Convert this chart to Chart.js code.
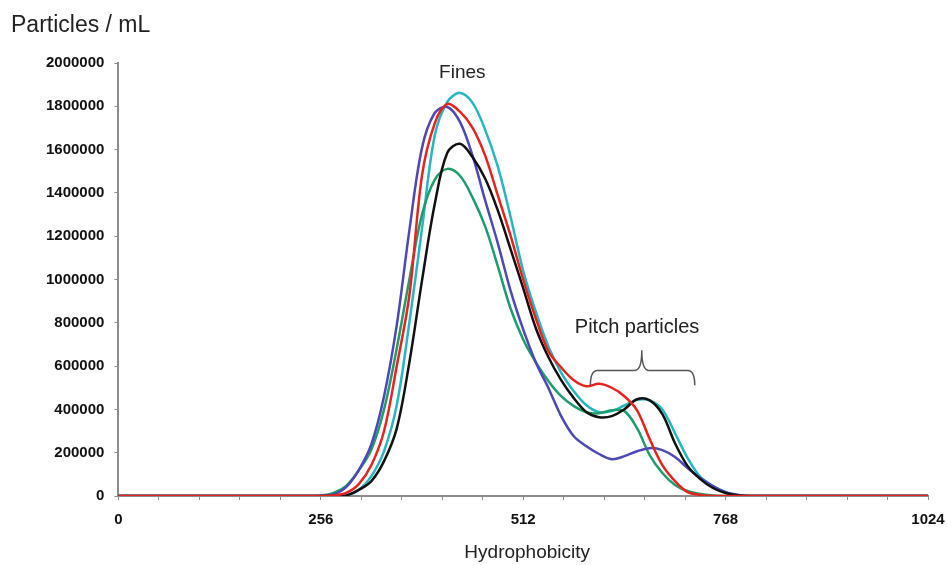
<!DOCTYPE html>
<html>
<head>
<meta charset="utf-8">
<script src="https://cdn.jsdelivr.net/npm/chart.js@4.4.1/dist/chart.umd.min.js"></script>
<style>
  html, body { margin: 0; padding: 0; background: #fff; }
  #wrap { width: 947px; height: 565px; }
</style>
</head>
<body>
<div id="wrap"><canvas id="chart" width="947" height="565"></canvas></div>
<script>
const FONT = 'Arial, "Liberation Sans", sans-serif';

// hydrophobicity channels (x) shared by all runs
const hydrophobicity = [0, 240, 256, 272, 288, 304, 320, 336, 352, 368, 384, 400, 416, 432, 448, 464, 480, 496, 512,
  528, 544, 560, 576, 592, 608, 624, 640, 656, 672, 688, 704, 720, 736, 752, 768, 784, 800, 816, 1024];

// particles / mL for each run
const redRun = [0, 0, 0, 2000, 14000, 55000, 143000, 300000, 599000, 926000, 1480000, 1720000, 1811000, 1775000, 1700000,
  1571000, 1387000, 1203000, 1000000, 820000, 668000, 594000, 535000, 507000, 518000, 500000, 461000, 396000, 263000,
  143000, 69000, 18000, 5000, 0, 0, 0, 0, 0, 0];
const blackRun = [0, 0, 0, 0, 2000, 28000, 69000, 161000, 311000, 617000, 995000, 1346000, 1585000, 1627000, 1565000,
  1465000, 1318000, 1140000, 960000, 775000, 641000, 535000, 452000, 387000, 364000, 369000, 401000, 447000, 442000,
  378000, 244000, 138000, 78000, 37000, 14000, 2000, 0, 0, 0];
const blueRun = [0, 0, 0, 7000, 41000, 120000, 240000, 461000, 788000, 1226000, 1608000, 1769000, 1797000, 1728000,
  1571000, 1364000, 1166000, 949000, 770000, 617000, 498000, 369000, 276000, 230000, 194000, 170000, 184000, 207000,
  221000, 212000, 180000, 129000, 83000, 46000, 18000, 5000, 0, 0, 0];
const greenRun = [0, 0, 2000, 14000, 46000, 118000, 215000, 400000, 680000, 1000000, 1300000, 1460000, 1511000, 1479000,
  1378000, 1244000, 1060000, 866000, 723000, 617000, 530000, 461000, 415000, 387000, 382000, 396000, 392000, 313000,
  189000, 106000, 51000, 23000, 9000, 2000, 0, 0, 0, 0, 0];
const cyanRun = [0, 0, 0, 0, 2000, 28000, 92000, 207000, 419000, 800000, 1235000, 1663000, 1820000, 1862000, 1816000,
  1690000, 1520000, 1290000, 1040000, 850000, 690000, 570000, 484000, 419000, 387000, 392000, 418000, 444000, 442000,
  400000, 290000, 175000, 88000, 46000, 18000, 5000, 0, 0, 0];

const xTickLabels = [0, 256, 512, 768, 1024];

// annotations, in data units
const finesNote = { text: 'Fines', x: 435, y: 1931000 };
const pitchNote = { text: 'Pitch particles', x: 656, y: 751000 };
const pitchBrace = { from: 597, to: 729, tip: 662, end: 511000, bar: 580000, top: 673000 };

function points(values) {
  return hydrophobicity.map((h, i) => ({ x: h, y: values[i] }));
}

function run(values, color) {
  return {
    data: points(values),
    borderColor: color,
    borderWidth: 2.5,
    pointRadius: 0,
    tension: 0.35,
    fill: false
  };
}

const notesPlugin = {
  id: 'notes',
  afterDatasetsDraw(chart) {
    const { ctx, scales: { x, y } } = chart;
    ctx.save();
    ctx.fillStyle = '#222';
    ctx.textBaseline = 'alphabetic';

    ctx.font = '23px ' + FONT;
    ctx.textAlign = 'left';
    ctx.fillText('Particles / mL', 11, 32);

    ctx.font = '19px ' + FONT;
    ctx.textAlign = 'center';
    ctx.fillText('Hydrophobicity', (x.left + x.right) / 2 + 4, 558);

    ctx.fillText(finesNote.text, x.getPixelForValue(finesNote.x), y.getPixelForValue(finesNote.y));
    ctx.font = '20px ' + FONT;
    ctx.fillText(pitchNote.text, x.getPixelForValue(pitchNote.x), y.getPixelForValue(pitchNote.y));

    // curly brace over the pitch shoulder
    const xl = x.getPixelForValue(pitchBrace.from);
    const xr = x.getPixelForValue(pitchBrace.to);
    const xm = x.getPixelForValue(pitchBrace.tip);
    const yEnd = y.getPixelForValue(pitchBrace.end);
    const yBar = y.getPixelForValue(pitchBrace.bar);
    const yTop = y.getPixelForValue(pitchBrace.top);
    const r = 7;
    ctx.strokeStyle = '#555';
    ctx.lineWidth = 1.5;
    ctx.beginPath();
    ctx.moveTo(xl, yEnd);
    ctx.quadraticCurveTo(xl, yBar, xl + r, yBar);
    ctx.lineTo(xm - r, yBar);
    ctx.quadraticCurveTo(xm, yBar, xm, yTop);
    ctx.quadraticCurveTo(xm, yBar, xm + r, yBar);
    ctx.lineTo(xr - r, yBar);
    ctx.quadraticCurveTo(xr, yBar, xr, yEnd);
    ctx.stroke();
    ctx.restore();
  }
};

new Chart(document.getElementById('chart'), {
  type: 'line',
  data: {
    datasets: [
      run(redRun, '#e8231f'),
      run(blackRun, '#111111'),
      run(blueRun, '#4c48b4'),
      run(greenRun, '#1f9c6c'),
      run(cyanRun, '#26b6c2')
    ]
  },
  options: {
    responsive: false,
    animation: false,
    devicePixelRatio: 1,
    layout: { padding: { left: 36, right: 19, top: 63, bottom: 25 } },
    plugins: { legend: { display: false }, tooltip: { enabled: false } },
    scales: {
      x: {
        type: 'linear',
        min: 0,
        max: 1024,
        afterBuildTicks: scale => {
          scale.ticks = Array.from({ length: 21 }, (_, i) => ({ value: i * 51.2 }));
        },
        // let the end labels hang past the plot edges
        afterFit: scale => {
          scale.paddingLeft = 0;
          scale.paddingRight = 0;
        },
        border: { display: true, color: '#8c8c8c', width: 2 },
        grid: { drawOnChartArea: false, drawTicks: true, tickLength: 4, color: '#8c8c8c' },
        ticks: {
          autoSkip: false,
          maxRotation: 0,
          padding: 11,
          color: '#111',
          font: { family: FONT, size: 15, weight: 'bold' },
          callback: v => xTickLabels.includes(Math.round(v * 10) / 10) ? String(v) : ''
        }
      },
      y: {
        min: 0,
        max: 2000000,
        border: { display: true, color: '#8c8c8c', width: 2 },
        grid: { drawOnChartArea: false, drawTicks: true, tickLength: 4, color: '#8c8c8c' },
        ticks: {
          stepSize: 200000,
          padding: 10,
          color: '#111',
          font: { family: FONT, size: 15, weight: 'bold' },
          callback: v => String(v)
        }
      }
    }
  },
  plugins: [notesPlugin]
});
</script>
</body>
</html>
